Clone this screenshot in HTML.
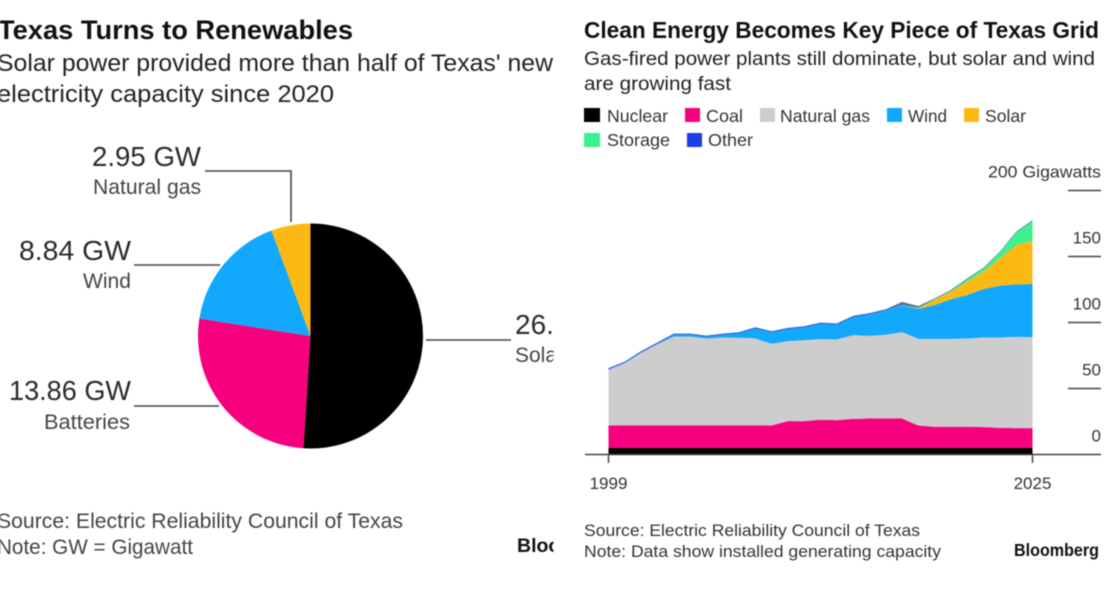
<!DOCTYPE html>
<html lang="en">
<head>
<meta charset="utf-8">
<title>Texas Turns to Renewables</title>
<style>
html,body{margin:0;padding:0;background:#fff;width:1112px;height:602px;overflow:hidden}
svg{display:block;filter:blur(.55px)}
text{font-family:"Liberation Sans",sans-serif;fill:#333}
.t{font-weight:700;fill:#111}
.h{fill:#222}
.big{font-size:28px;fill:#2a2a2a}
.sm{font-size:21px;fill:#444}
.lg{font-size:17.5px;fill:#333}
.ax{stroke:#444;stroke-width:1.5;fill:none}
.ld{stroke:#444;stroke-width:1.6;fill:none}
</style>
</head>
<body>
<svg id="root" xmlns="http://www.w3.org/2000/svg" width="1112" height="602" viewBox="0 0 1112 602">
<defs>
  <clipPath id="leftClip"><rect x="0" y="0" width="553.5" height="602"/></clipPath>
  <linearGradient id="otherFill" gradientUnits="userSpaceOnUse" x1="608" y1="0" x2="1032" y2="0">
    <stop offset="0" stop-color="#2a62d8"/>
    <stop offset="0.6" stop-color="#2a62d8"/>
    <stop offset="0.75" stop-color="#5f8398"/>
    <stop offset="1" stop-color="#5f8a94"/>
  </linearGradient>
</defs>

<g id="left" clip-path="url(#leftClip)">
  <text class="t" x="-2" y="39" font-size="26.5" textLength="355" lengthAdjust="spacingAndGlyphs">Texas Turns to Renewables</text>
  <text class="h" x="-3" y="71" font-size="24" textLength="556" lengthAdjust="spacingAndGlyphs">Solar power provided more than half of Texas' new</text>
  <text class="h" x="-3" y="102" font-size="24" textLength="337" lengthAdjust="spacingAndGlyphs">electricity capacity since 2020</text>

  <g id="pie"></g>

  <path class="ld" d="M205 171H291V222"/>
  <path class="ld" d="M134 265H220"/>
  <path class="ld" d="M134 406H219"/>
  <path class="ld" d="M426 340H511"/>

  <text class="big" x="92" y="166" textLength="109" lengthAdjust="spacingAndGlyphs">2.95 GW</text>
  <text class="sm" x="93" y="194" textLength="108" lengthAdjust="spacingAndGlyphs">Natural gas</text>
  <text class="big" x="19" y="260" textLength="112" lengthAdjust="spacingAndGlyphs">8.84 GW</text>
  <text class="sm" x="83" y="288" textLength="48" lengthAdjust="spacingAndGlyphs">Wind</text>
  <text class="big" x="9" y="400" textLength="122" lengthAdjust="spacingAndGlyphs">13.86 GW</text>
  <text class="sm" x="44" y="429" textLength="86" lengthAdjust="spacingAndGlyphs">Batteries</text>
  <text class="big" x="515" y="334">26.7 GW</text>
  <text class="sm" x="515" y="362">Solar</text>

  <text class="sm" x="-3" y="528" textLength="406" lengthAdjust="spacingAndGlyphs">Source: Electric Reliability Council of Texas</text>
  <text class="sm" x="-3" y="554" textLength="196" lengthAdjust="spacingAndGlyphs">Note: GW = Gigawatt</text>
  <text class="t" x="517" y="552" font-size="19.5">Bloomberg</text>
</g>

<g id="right">
  <text class="t" x="584" y="38" font-size="23" textLength="515" lengthAdjust="spacingAndGlyphs">Clean Energy Becomes Key Piece of Texas Grid</text>
  <text class="h" x="584" y="65" font-size="19.5" textLength="511" lengthAdjust="spacingAndGlyphs">Gas-fired power plants still dominate, but solar and wind</text>
  <text class="h" x="584" y="90" font-size="19.5" textLength="147" lengthAdjust="spacingAndGlyphs">are growing fast</text>

  <g>
    <g><rect x="584" y="108" width="16" height="14" fill="#000"/><text class="lg" x="607" y="122" textLength="61" lengthAdjust="spacingAndGlyphs">Nuclear</text></g>
    <g><rect x="685" y="108" width="15" height="14" fill="#f7007f"/><text class="lg" x="706" y="122" textLength="37" lengthAdjust="spacingAndGlyphs">Coal</text></g>
    <g><rect x="760" y="108" width="15" height="14" fill="#cdcdcd"/><text class="lg" x="780" y="122" textLength="90" lengthAdjust="spacingAndGlyphs">Natural gas</text></g>
    <g><rect x="887" y="108" width="15" height="14" fill="#12a8fb"/><text class="lg" x="908" y="122" textLength="39" lengthAdjust="spacingAndGlyphs">Wind</text></g>
    <g><rect x="964" y="108" width="15" height="14" fill="#fdb913"/><text class="lg" x="985" y="122" textLength="41" lengthAdjust="spacingAndGlyphs">Solar</text></g>
    <g><rect x="584" y="133" width="16" height="14" fill="#3ff08e"/><text class="lg" x="607" y="146" textLength="63" lengthAdjust="spacingAndGlyphs">Storage</text></g>
    <g><rect x="687" y="133" width="15" height="14" fill="#1a3fe6"/><text class="lg" x="708" y="146" textLength="45" lengthAdjust="spacingAndGlyphs">Other</text></g>
  </g>

  <g id="areas"></g>
  <g id="yaxis"></g>
  <g id="xaxis"></g>

  <text class="lg" x="584" y="536" style="font-size:16.5px" textLength="336" lengthAdjust="spacingAndGlyphs">Source: Electric Reliability Council of Texas</text>
  <text class="lg" x="584" y="557" style="font-size:16.5px" textLength="357" lengthAdjust="spacingAndGlyphs">Note: Data show installed generating capacity</text>
  <text class="t" x="1014" y="556" font-size="17.5" textLength="85" lengthAdjust="spacingAndGlyphs">Bloomberg</text>
</g>
</svg>

<script>
// Pie data (GW)
const pieCategories = ['solar', 'batteries', 'wind', 'natural-gas'];
const pieValues = [26.7, 13.86, 8.84, 2.95];
const pieColors = ['#000000', '#f7007f', '#12a8fb', '#fdb913'];

// Stacked-area data (GW per year)
const firstYear = 1999;
const lastYear = 2025;
const nuclear = [5,5,5,5,5,5,5,5,5,5,5,5,5,5,5,5,5,5,5,5,5,5,5,5,5,5,5];
const coal = [17,17,17,17,17,17,17,17,17,17,17,20.3,20.3,21.3,21,22,22.3,22.3,22.3,17,16,16,16,15.7,15.2,15,15];
const naturalGas = [42.2,47.2,55,61.5,67.4,67.4,65.9,66.6,66.4,66,61.8,60.6,61.3,61.1,61.1,63.4,62.6,63.4,65.4,65.6,66.6,66.6,66.9,67.9,68.4,69.1,68.9];
const wind = [0.2,0.2,0.3,0.3,1.2,1.2,1.2,2,3.2,7.4,8.6,9,9.6,11.5,11.1,13.6,16.2,18.3,20.3,22.6,25.7,30,32.9,36.8,39.3,39.8,40.3];
const solar = [0,0,0,0,0,0,0,0,0,0,0,0,0,0,0,0,0,0,0.2,0.5,3.7,5.8,10.1,13.1,20.7,29.8,32.5];
const storage = [0,0,0,0,0,0,0,0,0,0,0,0,0,0,0,0,0,0,0,0.3,0.5,0.5,1.8,2.3,4.3,9.3,15.1];
const other = [1,1,1,1,1,1,1,1,1,1,1,1,1,1,1,1,1,1,2.4,1.5,0.8,0.8,0.8,0.8,0.8,0.8,0.8];
const yTickValues = [0, 50, 100, 150, 200];
const xTickYears = [1999, 2025];

const NS = 'http://www.w3.org/2000/svg';
function make(tag, parent) {
  const el = document.createElementNS(NS, tag);
  parent.appendChild(el);
  return el;
}

// Pie
const pieG = document.getElementById('pie');
const cx = 310.5, cy = 336, r = 112.5;
const pieTotal = pieValues.reduce(function (a, b) { return a + b; }, 0);
function polar(frac) {
  const a = frac * 2 * Math.PI;
  return [cx + r * Math.sin(a), cy - r * Math.cos(a)];
}
let acc = 0;
pieValues.forEach(function (v, i) {
  const p0 = polar(acc / pieTotal);
  acc += v;
  const p1 = polar(acc / pieTotal);
  const large = v / pieTotal > 0.5 ? 1 : 0;
  const slice = make('path', pieG);
  slice.setAttribute('d', 'M' + cx + ' ' + cy + 'L' + p0[0] + ' ' + p0[1] + 'A' + r + ' ' + r + ' 0 ' + large + ' 1 ' + p1[0] + ' ' + p1[1] + 'Z');
  slice.setAttribute('fill', pieColors[i]);
  
  
});

// Axis functions
const xScale = function (year) { return 608.5 + (year - firstYear) * (1032.5 - 608.5) / (lastYear - firstYear); };
const yScale = function (gw) { return 454.5 - gw * 1.32; };

// Stacked areas
const areasG = document.getElementById('areas');
const layers = [
  ['nuclear', nuclear, '#000000'],
  ['coal', coal, '#f7007f'],
  ['natural-gas', naturalGas, '#cdcdcd'],
  ['wind', wind, '#12a8fb'],
  ['solar', solar, '#fdb913'],
  ['storage', storage, '#3ff08e'],
  ['other', other, 'url(#otherFill)']
];
let base = nuclear.map(function () { return 0; });
layers.forEach(function (layer) {
  const vals = layer[1];
  const tops = vals.map(function (v, i) { return base[i] + v; });
  let d = '';
  tops.forEach(function (t, i) {
    d += (i ? 'L' : 'M') + xScale(firstYear + i).toFixed(2) + ' ' + yScale(t).toFixed(2);
  });
  for (let i = base.length - 1; i >= 0; i--) {
    d += 'L' + xScale(firstYear + i).toFixed(2) + ' ' + yScale(base[i]).toFixed(2);
  }
  d += 'Z';
  const area = make('path', areasG);
  area.setAttribute('d', d);
  area.setAttribute('fill', layer[2]);
  
  
  base = tops;
});

// Y axis
const yG = document.getElementById('yaxis');
yTickValues.forEach(function (v) {
  if (v > 0) {
    const tick = make('line', yG);
    tick.setAttribute('x1', 1068);
    tick.setAttribute('x2', 1101);
    tick.setAttribute('y1', yScale(v));
    tick.setAttribute('y2', yScale(v));
    tick.setAttribute('class', 'ax');
    
    
  }
  const label = make('text', yG);
  label.setAttribute('x', 1101);
  label.setAttribute('y', yScale(v) - 13);
  label.setAttribute('text-anchor', 'end');
  label.setAttribute('font-size', '17');
  if (v === 200) {
    label.setAttribute('textLength', '113');
    label.setAttribute('lengthAdjust', 'spacingAndGlyphs');
  }
  label.textContent = v === 200 ? v + ' Gigawatts' : String(v);
  
  
});

// X axis
const xG = document.getElementById('xaxis');
const axisLine = make('line', xG);
axisLine.setAttribute('x1', 585);
axisLine.setAttribute('x2', 1101);
axisLine.setAttribute('y1', 454.5);
axisLine.setAttribute('y2', 454.5);
axisLine.setAttribute('class', 'ax');


xTickYears.forEach(function (year) {
  const tick = make('line', xG);
  tick.setAttribute('x1', xScale(year));
  tick.setAttribute('x2', xScale(year));
  tick.setAttribute('y1', 454);
  tick.setAttribute('y2', 463);
  tick.setAttribute('class', 'ax');
  
  
  const label = make('text', xG);
  label.setAttribute('x', xScale(year));
  label.setAttribute('y', 489);
  label.setAttribute('text-anchor', 'middle');
  label.setAttribute('font-size', '17');
  label.textContent = String(year);
  
  
});
</script>
</body>
</html>
